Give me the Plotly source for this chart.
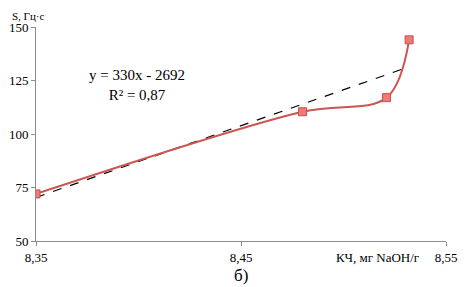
import numpy as np
import plotly.graph_objects as go

kch = [8.35, 8.480, 8.521, 8.532]
s_vals = [72.0, 110.4, 117.0, 144.0]
y_ticks = [50, 75, 100, 125, 150]
x_ticks = [8.35, 8.45, 8.55]
x_tick_labels = ["8,35", "8,45", "8,55"]

slope, intercept = np.polyfit(kch, s_vals, 1)
trend_x = [kch[0], kch[-1]]
trend_y = [slope * v + intercept for v in trend_x]

font_family = "'Liberation Serif', 'DejaVu Serif', serif"

fig = go.Figure()
fig.add_trace(go.Scatter(
    x=trend_x, y=trend_y, mode="lines",
    line=dict(color="black", width=1.2, dash="dash"),
    showlegend=False, hoverinfo="skip"))
fig.add_trace(go.Scatter(
    x=kch, y=s_vals, mode="lines+markers",
    line=dict(color="#cc5551", width=2, shape="spline", smoothing=1.0),
    marker=dict(symbol="square", size=8, color="#ec7a76",
                line=dict(color="#c9504c", width=1)),
    showlegend=False))

fig.add_annotation(x=8.3995, y=123, xref="x", yref="y",
                   text="y = 330x - 2692<br>R² = 0,87", showarrow=False,
                   align="center", font=dict(size=15, family=font_family, color="black"))
fig.add_annotation(x=0, y=1.0, xref="paper", yref="paper",
                   xanchor="left", yanchor="bottom", xshift=-25, yshift=4,
                   text="S, Гц·с", showarrow=False, borderpad=0,
                   font=dict(size=11, family=font_family, color="black"))
fig.add_annotation(x=0.94, y=0, xref="paper", yref="paper",
                   xanchor="right", yanchor="top", yshift=-7,
                   text="КЧ, мг NaOH/г", showarrow=False,
                   font=dict(size=13, family=font_family, color="black"))
fig.add_annotation(x=0.5, y=0, xref="paper", yref="paper",
                   xanchor="center", yanchor="top", yshift=-23,
                   text="б)", showarrow=False,
                   font=dict(size=17, family=font_family, color="black"))

fig.update_layout(
    width=460, height=279,
    margin=dict(l=28, r=22, t=19, b=46),
    paper_bgcolor="white", plot_bgcolor="white",
    separators=", ",
    font=dict(family=font_family, size=13, color="black"),
)
fig.update_xaxes(range=[8.35, 8.55], tickvals=x_ticks, ticktext=x_tick_labels,
                 showgrid=False, zeroline=False, showline=True, automargin=False,
                 linecolor="#8c8c8c", linewidth=1, ticks="outside",
                 ticklen=4, tickcolor="#8c8c8c")
fig.update_yaxes(range=[50, 150], tickvals=y_ticks,
                 showgrid=False, zeroline=False, showline=True, automargin=False,
                 linecolor="#8c8c8c", linewidth=1, ticks="outside",
                 ticklen=4, tickcolor="#8c8c8c")

fig.write_html("out.html")
